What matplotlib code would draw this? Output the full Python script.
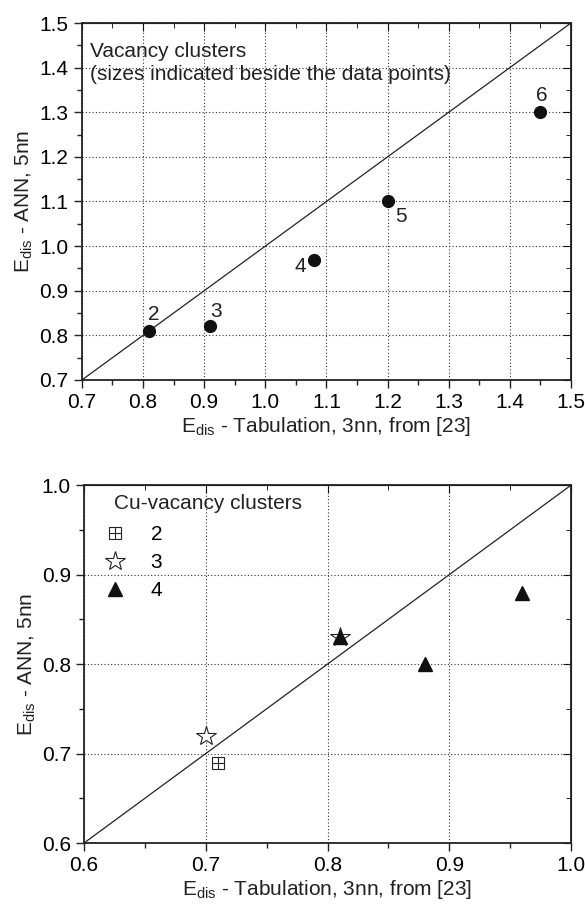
import numpy as np
import matplotlib.pyplot as plt
from matplotlib.ticker import MultipleLocator
from matplotlib.legend_handler import HandlerTuple

plt.rcParams['font.family'] = ['Liberation Sans', 'DejaVu Sans']
plt.rcParams['mathtext.fontset'] = 'custom'
plt.rcParams['mathtext.rm'] = 'Liberation Sans'
plt.rcParams['mathtext.it'] = 'Liberation Sans'

# vacancy clusters (top panel)
vac_tab = [0.81, 0.91, 1.08, 1.20, 1.45]
vac_ann = [0.81, 0.82, 0.97, 1.10, 1.30]
vac_size = ['2', '3', '4', '5', '6']
vac_offsets = [(3, 12), (4, 11), (-10, -5), (10, -11), (1, 12)]

# Cu-vacancy clusters (bottom panel)
cu2_tab = [0.71]
cu2_ann = [0.69]
cu3_tab = [0.70, 0.81]
cu3_ann = [0.72, 0.83]
cu4_tab = [0.81, 0.88, 0.96]
cu4_ann = [0.83, 0.80, 0.88]

FS = 15
xlabel = r'E$_{\rm dis}$ - Tabulation, 3nn, from [23]'
ylabel = r'E$_{\rm dis}$ - ANN, 5nn'


def style_axes(ax, lo, hi, major, minor):
    ax.set_xlim(lo, hi)
    ax.set_ylim(lo, hi)
    ax.xaxis.set_major_locator(MultipleLocator(major))
    ax.yaxis.set_major_locator(MultipleLocator(major))
    ax.xaxis.set_minor_locator(MultipleLocator(minor))
    ax.yaxis.set_minor_locator(MultipleLocator(minor))
    ax.grid(True, which='major', linestyle=(0, (1, 2)), color='#333333', linewidth=0.8)
    ax.tick_params(which='both', direction='out', labelsize=FS, width=1.0, color='#222222')
    ax.tick_params(which='major', length=6)
    ax.tick_params(which='minor', length=3.5)
    for s in ax.spines.values():
        s.set_linewidth(1.3)
        s.set_color('#222222')
    # inward ticks on the top and right edges
    top = ax.secondary_xaxis('top')
    right = ax.secondary_yaxis('right')
    for sec, axis in ((top, top.xaxis), (right, right.yaxis)):
        axis.set_major_locator(MultipleLocator(major))
        axis.set_minor_locator(MultipleLocator(minor))
        sec.tick_params(which='both', direction='in', labelleft=False, labelright=False,
                        labeltop=False, labelbottom=False)
        sec.tick_params(which='major', length=6)
        sec.tick_params(which='minor', length=3.5)
    ax.plot([lo, hi], [lo, hi], color='#222222', linewidth=0.9, zorder=2)
    ax.set_xlabel(xlabel, fontsize=FS, labelpad=2, color='#222222')
    ax.set_ylabel(ylabel, fontsize=FS, labelpad=3, color='#222222')


fig = plt.figure(figsize=(5.85, 9.06), dpi=100)

ax1 = fig.add_axes([0.140, 0.5806, 0.836, 0.394])
style_axes(ax1, 0.7, 1.5, 0.1, 0.05)
ax1.plot(vac_tab, vac_ann, 'o', color='#111111', markersize=8.5, zorder=3)
for x, y, s, off in zip(vac_tab, vac_ann, vac_size, vac_offsets):
    ax1.annotate(s, (x, y), xytext=off, textcoords='offset points',
                 ha='center', va='center', fontsize=FS, color='#222222')
ax1.text(0.713, 1.41, 'Vacancy clusters\n(sizes indicated beside the data points)',
         fontsize=FS, va='center', ha='left', linespacing=1.25, color='#222222')

ax2 = fig.add_axes([0.1436, 0.0695, 0.8325, 0.395])
style_axes(ax2, 0.6, 1.0, 0.1, 0.05)
sq, = ax2.plot(cu2_tab, cu2_ann, linestyle='none', marker='s', markersize=9,
               markerfacecolor='white', markeredgecolor='#222222', markeredgewidth=0.8,
               zorder=3)
pl, = ax2.plot(cu2_tab, cu2_ann, linestyle='none', marker='+', markersize=9,
               color='#222222', markeredgewidth=0.8, zorder=4)
st, = ax2.plot(cu3_tab, cu3_ann, linestyle='none', marker='*', markersize=15,
               markerfacecolor='white', markeredgecolor='#222222', markeredgewidth=0.8,
               zorder=3)
tr, = ax2.plot(cu4_tab, cu4_ann, linestyle='none', marker='^', markersize=10,
               color='#111111', zorder=4)

ax2.legend([(sq, pl), st, tr], ['2', '3', '4'], loc='upper left',
           bbox_to_anchor=(0.0, 0.94), frameon=False, fontsize=FS,
           handler_map={tuple: HandlerTuple(ndivide=1, pad=0)},
           handlelength=1.2, handletextpad=1.1, labelspacing=0.42, borderaxespad=0.5)
ax2.text(0.6245, 0.98, 'Cu-vacancy clusters', fontsize=FS, va='center', ha='left',
         color='#222222')

fig.savefig('out.png', dpi=100)
